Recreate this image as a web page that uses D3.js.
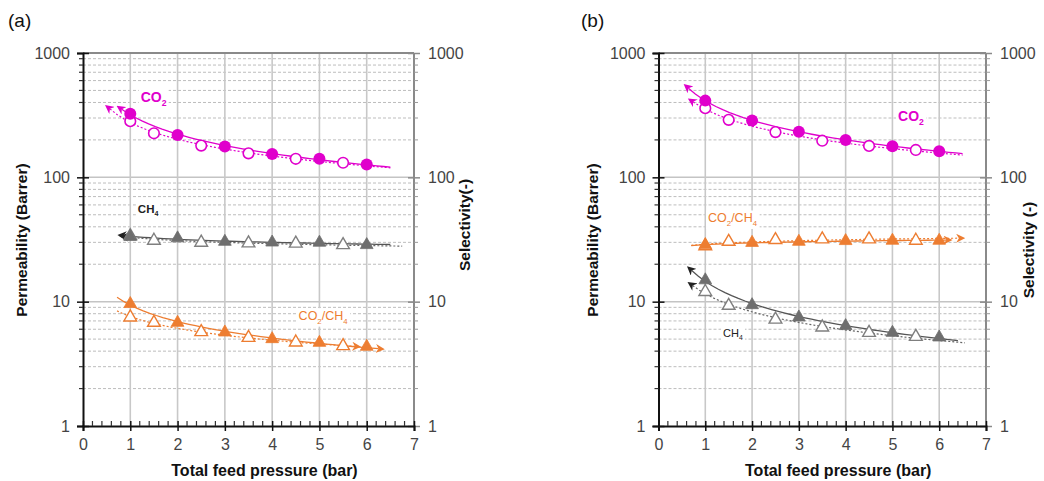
<!DOCTYPE html>
<html><head><meta charset="utf-8">
<script src="https://cdn.jsdelivr.net/npm/d3@7"></script>
<style>
body{margin:0;background:#fff;}
svg{display:block;}
text{font-family:"Liberation Sans",Arial,sans-serif;}
</style></head>
<body><svg id="chart" width="1044" height="481"></svg>
<script>
// ---------------- data ----------------
const pressureFilled = [1, 2, 3, 4, 5, 6];
const pressureOpen   = [1, 1.5, 2.5, 3.5, 4.5, 5.5];
const xTickValues = [0, 1, 2, 3, 4, 5, 6, 7];
const yTickValues = [1, 10, 100, 1000];

// panel (a)
const aCO2Filled = [324, 219, 177, 154, 141, 127];
const aCO2Open   = [283, 226, 180, 156, 141, 131];
const aCH4Filled = [33.3, 32.4, 30.4, 30.0, 29.9, 28.6];
const aCH4Open   = [33.8, 31.0, 29.9, 29.5, 29.4, 28.6];
const aSelFilled = [9.6, 6.78, 5.67, 5.01, 4.68, 4.35];
const aSelOpen   = [7.49, 6.78, 5.71, 5.13, 4.71, 4.40];

// panel (b)
const bCO2Filled = [414, 286, 233, 200, 178, 162];
const bCO2Open   = [360, 290, 231, 197, 179, 166];
const bCH4Filled = [14.9, 9.4, 7.49, 6.38, 5.63, 5.17];
const bCH4Open   = [12.0, 9.29, 7.2, 6.22, 5.63, 5.23];
const bSelFilled = [28.6, 29.8, 30.4, 30.8, 31.0, 31.0];
const bSelOpen   = [28.0, 30.4, 31.4, 31.8, 31.8, 31.0];

// trend-line extents (pressure, bar)
const aFitRanges = {co2F:[0.82,6.5], co2O:[0.57,6.5], ch4F:[0.86,6.5], ch4O:[0.9,6.75], selF:[0.72,6.25], selO:[0.72,5.75]};
const bFitRanges = {co2F:[0.64,6.5], co2O:[0.74,6.5], ch4F:[0.71,6.4], ch4O:[0.73,6.55], selF:[0.7,6.15], selO:[0.7,6.42]};

const MAGENTA = "#e000cc", ORANGE = "#ed7d31", GRAY = "#7f7f7f";

const svg = d3.select("#chart");
const defs = svg.append("defs");
function arrowMarker(id, color){
  defs.append("marker").attr("id", id).attr("viewBox","0 0 10 10")
    .attr("refX", 3).attr("refY", 5).attr("markerWidth", 9).attr("markerHeight", 9)
    .attr("markerUnits","userSpaceOnUse").attr("orient","auto-start-reverse")
    .append("path").attr("d","M0,0 L10,5 L0,10 L3,5 Z").attr("fill", color);
}
arrowMarker("arMag", MAGENTA); arrowMarker("arOr", ORANGE); arrowMarker("arBlk", "#222");

function powerFit(xs, ys){
  const lx = xs.map(Math.log), ly = ys.map(Math.log);
  const n = xs.length, mx = d3.mean(lx), my = d3.mean(ly);
  let sxy=0, sxx=0;
  for(let i=0;i<n;i++){ sxy += (lx[i]-mx)*(ly[i]-my); sxx += (lx[i]-mx)**2; }
  const b = sxy/sxx, a = Math.exp(my - b*mx);
  return x => a*Math.pow(x, b);
}

function panel(cfg){
  const g = svg.append("g");
  const x = d3.scaleLinear().domain([0,7]).range([cfg.left, cfg.right]);
  const y = d3.scaleLog().domain([1,1000]).range([426, 53]);
  const minor = [];
  for (let d=1; d<1000; d*=10) for (let k=2;k<=9;k++) minor.push(d*k);

  // grid
  g.append("g").selectAll("line").data(minor).join("line")
    .attr("x1", x(0)).attr("x2", x(7)).attr("y1", d=>y(d)).attr("y2", d=>y(d))
    .attr("stroke","#bdbdbd").attr("stroke-width",1).attr("stroke-dasharray","3,2");
  g.append("g").selectAll("line").data([10,100]).join("line")
    .attr("x1", x(0)).attr("x2", x(7)).attr("y1", d=>y(d)).attr("y2", d=>y(d))
    .attr("stroke","#c4c4c4").attr("stroke-width",1.5);
  g.append("g").selectAll("line").data(d3.range(1,7)).join("line")
    .attr("x1", d=>x(d)).attr("x2", d=>x(d)).attr("y1", y(1)).attr("y2", y(1000))
    .attr("stroke","#c8c8c8").attr("stroke-width",1.6);

  // frame: top and right gray
  g.append("line").attr("x1",x(0)).attr("x2",x(7)).attr("y1",y(1000)).attr("y2",y(1000))
    .attr("stroke","#8a8a8a").attr("stroke-width",2);
  g.append("line").attr("x1",x(7)).attr("x2",x(7)).attr("y1",y(1)).attr("y2",y(1000))
    .attr("stroke","#8a8a8a").attr("stroke-width",2);

  // left axis
  const yAxisL = d3.axisLeft(y).tickValues(yTickValues).tickFormat(d3.format("d")).tickSize(6).tickPadding(7);
  const gl = g.append("g").attr("transform",`translate(${x(0)},0)`).call(yAxisL);
  gl.select(".domain").attr("stroke","#111").attr("stroke-width",2);
  gl.selectAll(".tick line").attr("stroke","#111").attr("stroke-width",1.5).attr("x2",-6).attr("x1",6);
  gl.selectAll("text").attr("font-size",16).attr("fill","#444");
  g.append("g").selectAll("line").data(minor).join("line")
    .attr("x1", x(0)-4).attr("x2", x(0)).attr("y1", d=>y(d)).attr("y2", d=>y(d))
    .attr("stroke","#333").attr("stroke-width",1.2);

  // right axis
  const yAxisR = d3.axisRight(y).tickValues(yTickValues).tickFormat(d3.format("d")).tickSize(6).tickPadding(8);
  const gr = g.append("g").attr("transform",`translate(${x(7)},0)`).call(yAxisR);
  gr.select(".domain").remove();
  gr.selectAll(".tick line").attr("stroke","#8a8a8a").attr("stroke-width",1.5).attr("x1",-6);
  gr.selectAll("text").attr("font-size",16).attr("fill","#444");
  g.append("g").selectAll("line").data(minor).join("line")
    .attr("x1", x(7)).attr("x2", x(7)+4).attr("y1", d=>y(d)).attr("y2", d=>y(d))
    .attr("stroke","#999").attr("stroke-width",1);

  // bottom axis
  const xAxis = d3.axisBottom(x).tickValues(xTickValues).tickFormat(d3.format("d")).tickSize(5).tickPadding(8);
  const gb = g.append("g").attr("transform",`translate(0,${y(1)})`).call(xAxis);
  gb.select(".domain").attr("stroke","#111").attr("stroke-width",2);
  gb.selectAll(".tick line").attr("stroke","#111").attr("stroke-width",1.5).attr("y1",-5);
  gb.selectAll("text").attr("font-size",16).attr("fill","#444");
  const xMinor = d3.range(0, 7.001, 0.2).filter(v => Math.abs(v-Math.round(v))>1e-6);
  g.append("g").selectAll("line").data(xMinor).join("line")
    .attr("x1", d=>x(d)).attr("x2", d=>x(d)).attr("y1", y(1)).attr("y2", y(1)-5)
    .attr("stroke","#333").attr("stroke-width",1.2);

  // titles
  g.append("text").attr("x", cfg.tag[0]).attr("y", 27).attr("font-size",19).attr("fill","#111").text(cfg.tagText);
  g.append("text").attr("transform",`translate(${cfg.leftTitleX},240) rotate(-90)`)
    .attr("text-anchor","middle").attr("font-weight","bold").attr("font-size",15.5).attr("fill","#111")
    .text("Permeability (Barrer)");
  g.append("text").attr("transform",`translate(${cfg.rightTitle[0]},${cfg.rightTitle[1]}) rotate(-90)`)
    .attr("text-anchor","middle").attr("font-weight","bold").attr("font-size",15.5).attr("fill","#111")
    .text(cfg.rightTitleText);
  g.append("text").attr("x",(x(0)+x(7))/2 + 16).attr("y",476).attr("text-anchor","middle")
    .attr("font-weight","bold").attr("font-size",16).attr("fill","#111").text("Total feed pressure (bar)");

  // trend lines
  const line = d3.line().x(d=>x(d[0])).y(d=>y(d[1]));
  function trend(xs, ys, range, color, dashed, marker, arrowEnd){
    const f = powerFit(xs, ys);
    const pts = d3.range(0, 41).map(i => { const xv = range[0] + (range[1]-range[0])*i/40; return [xv, f(xv)]; });
    const p = g.append("path").attr("d", line(pts)).attr("fill","none").attr("stroke", color)
      .attr("stroke-width", dashed ? 1.2 : 1.3).attr("stroke-dasharray", dashed ? "2,2" : null);
    if (arrowEnd === "start") p.attr("marker-start", `url(#${marker})`);
    else p.attr("marker-end", `url(#${marker})`);
  }
  const s = cfg.series, R = cfg.fit;
  trend(pressureFilled, s.co2F, R.co2F, MAGENTA, false, "arMag", "start");
  trend(pressureOpen,   s.co2O, R.co2O, MAGENTA, true,  "arMag", "start");
  trend(pressureFilled, s.ch4F, R.ch4F, "#555", false, "arBlk", "start");
  trend(pressureOpen,   s.ch4O, R.ch4O, "#666", true,  "arBlk", "start");
  trend(pressureFilled, s.selF, R.selF, ORANGE, false, "arOr", "end");
  trend(pressureOpen,   s.selO, R.selO, ORANGE, true,  "arOr", "end");

  // markers
  const tri = d3.symbol().type(d3.symbolTriangle).size(70);
  function circles(xs, ys, filled){
    g.append("g").selectAll("circle").data(xs.map((v,i)=>[v, ys[i]])).join("circle")
      .attr("cx", d=>x(d[0])).attr("cy", d=>y(d[1])).attr("r", filled ? 6 : 5.3)
      .attr("fill", filled ? MAGENTA : "#fff").attr("stroke", MAGENTA).attr("stroke-width", filled ? 0 : 1.6);
  }
  function triangles(xs, ys, color, filled){
    g.append("g").selectAll("path").data(xs.map((v,i)=>[v, ys[i]])).join("path")
      .attr("d", tri).attr("transform", d=>`translate(${x(d[0])},${y(d[1])})`)
      .attr("fill", filled ? color : "#fff").attr("stroke", color).attr("stroke-width", filled ? 0.8 : 1.4);
  }
  circles(pressureOpen, s.co2O, false);
  circles(pressureFilled, s.co2F, true);
  triangles(pressureOpen, s.ch4O, GRAY, false);
  triangles(pressureFilled, s.ch4F, "#6e6e6e", true);
  triangles(pressureOpen, s.selO, ORANGE, false);
  triangles(pressureFilled, s.selF, ORANGE, true);

  // labels with subscripts
  function label(L){
    const size = L.size;
    const t = g.append("text").attr("x", x(L.x)).attr("y", y(L.y)).attr("dy","0.35em")
      .attr("font-size", size).attr("fill", L.color).attr("font-weight", L.weight || "normal")
      .attr("font-family","'Open Sans','Liberation Sans',sans-serif");
    let inSub = false;
    L.parts.forEach(([txt, sub]) => {
      const ts = t.append("tspan").text(txt);
      if (sub && !inSub) { ts.attr("font-size", size*0.62).attr("dy", size*0.28); inSub = true; }
      else if (sub) { ts.attr("font-size", size*0.62); }
      else if (inSub) { ts.attr("dy", -size*0.28); inSub = false; }
    });
    const bb = t.node().getBBox();
    g.insert("rect", () => t.node()).attr("x", bb.x-2).attr("y", bb.y-1).attr("width", bb.width+4).attr("height", bb.height+2).attr("fill","#fff");
  }
  cfg.labels.forEach(label);
}

panel({
  left: 83, right: 414, tag:[8], tagText:"(a)", leftTitleX: 27,
  rightTitle:[470, 225], rightTitleText:"Selectivity(-)",
  series:{co2F:aCO2Filled, co2O:aCO2Open, ch4F:aCH4Filled, ch4O:aCH4Open, selF:aSelFilled, selO:aSelOpen},
  fit: aFitRanges,
  labels:[
    {x:1.22, y:440, parts:[["CO",0],["2",1]], color:MAGENTA, size:14, weight:600},
    {x:1.16, y:56, parts:[["CH",0],["4",1]], color:"#222", size:11.5, weight:600},
    {x:4.56, y:7.7, parts:[["CO",0],["2",1],["/CH",0],["4",1]], color:ORANGE, size:12.5}
  ]
});
panel({
  left: 658.5, right: 986, tag:[581], tagText:"(b)", leftTitleX: 598,
  rightTitle:[1034, 250], rightTitleText:"Selectivity (-)",
  series:{co2F:bCO2Filled, co2O:bCO2Open, ch4F:bCH4Filled, ch4O:bCH4Open, selF:bSelFilled, selO:bSelOpen},
  fit: bFitRanges,
  labels:[
    {x:5.12, y:308, parts:[["CO",0],["2",1]], color:MAGENTA, size:14, weight:600},
    {x:1.06, y:47, parts:[["CO",0],["2",1],["/CH",0],["4",1]], color:ORANGE, size:12.5},
    {x:1.38, y:5.6, parts:[["CH",0],["4",1]], color:"#222", size:11}
  ]
});
</script></body></html>
